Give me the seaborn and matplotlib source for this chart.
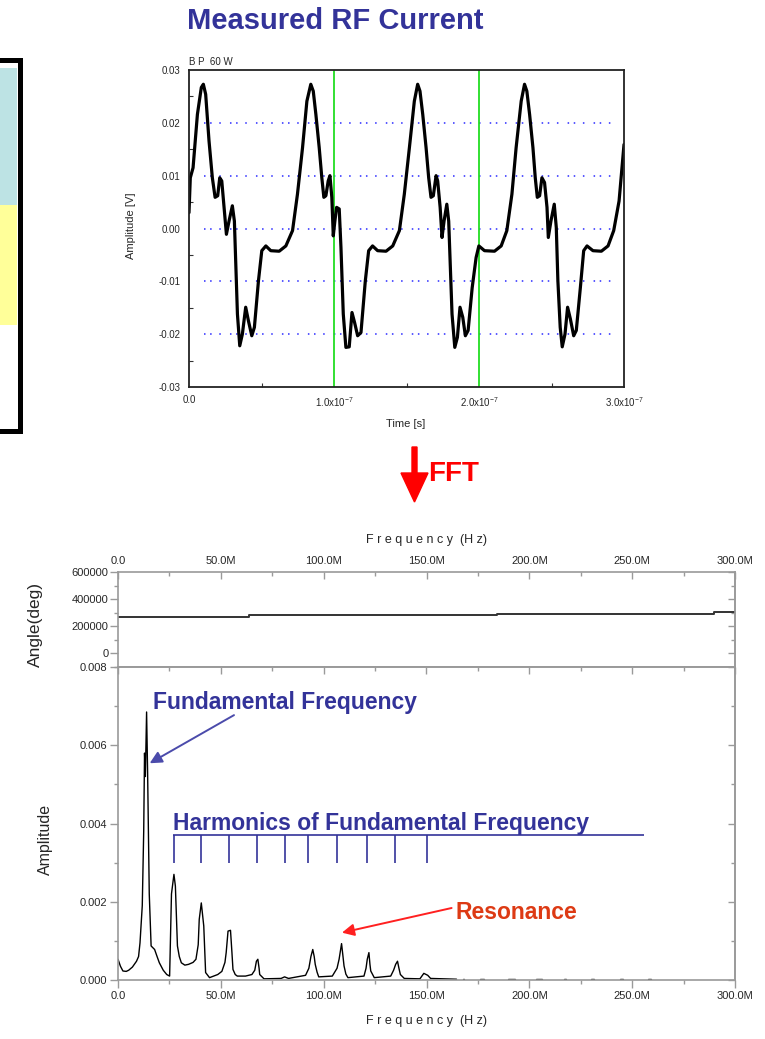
import matplotlib
matplotlib.use("Agg")
import matplotlib.pyplot as plt
import matplotlib.ticker as mticker
from matplotlib.patches import Rectangle, FancyArrow
from matplotlib.transforms import IdentityTransform
import numpy as np
import pandas as pd
import seaborn as sns

sns.set_theme(style="white")
plt.rcParams["font.family"] = ["Liberation Sans", "DejaVu Sans"]
plt.rcParams["mathtext.fontset"] = "custom"
plt.rcParams["mathtext.rm"] = "Liberation Sans"
plt.rcParams["mathtext.it"] = "Liberation Sans:italic"

# ---------------- measured RF current (time domain) ----------------
time_ns = [
    0.0, 0.9, 2.8, 5.8, 8.5, 9.9, 11.5, 13.8, 16.1, 18.0, 19.8, 21.2, 22.6, 24.2,
    25.8, 27.6, 29.9, 31.3, 32.2, 33.4, 35.0, 36.8, 39.1, 41.0, 43.3, 45.1, 47.9,
    50.2, 53.0, 56.4, 62.2, 66.8, 71.4, 74.8, 78.3, 81.3, 84.0,
    85.7, 87.5, 89.8, 91.6, 93.0, 94.4, 96.0, 97.2, 98.5, 99.5, 100.6, 101.8,
    103.6, 104.8, 106.4, 108.2, 110.5, 112.4, 114.2, 116.3, 118.6, 121.6, 123.9,
    126.6, 130.1, 135.9, 140.5, 145.1, 148.5, 152.0, 155.4, 157.7,
    159.3, 161.2, 163.5, 165.3, 166.9, 168.5, 170.4, 171.5, 173.2, 174.5, 175.9,
    177.8, 179.1, 180.1, 181.4, 183.3, 185.1, 186.9, 188.8, 190.6, 192.5, 195.3,
    198.0, 199.9, 203.8, 210.7, 215.3, 219.2, 222.7, 225.6, 229.1, 231.4,
    233.0, 234.9, 237.2, 238.8, 240.2, 241.8, 243.4, 245.2, 246.9, 247.8, 249.6,
    251.9, 253.3, 254.4, 256.0, 257.4, 259.3, 261.1, 263.0, 265.3, 267.1, 269.9,
    272.2, 274.5, 278.6, 284.4, 289.0, 292.9, 296.6, 300.0,
]
current_v = [
    0.0030, 0.0096, 0.0115, 0.0216, 0.0267, 0.0273, 0.0254, 0.0166, 0.0096, 0.0059,
    0.0062, 0.0096, 0.0090, 0.0040, -0.0011, 0.0014, 0.0043, 0.0014, -0.0061,
    -0.0162, -0.0222, -0.0200, -0.0149, -0.0175, -0.0203, -0.0187, -0.0099,
    -0.0042, -0.0033, -0.0042, -0.0043, -0.0033, -0.0004, 0.0065, 0.0153, 0.0241, 0.0273,
    0.0260, 0.0216, 0.0153, 0.0096, 0.0059, 0.0062, 0.0090, 0.0100, 0.0059, -0.0014,
    0.0014, 0.0040, 0.0037, -0.0036, -0.0162, -0.0225, -0.0224, -0.0159, -0.0178,
    -0.0203, -0.0197, -0.0099, -0.0042, -0.0033, -0.0042, -0.0043, -0.0033, -0.0004,
    0.0065, 0.0153, 0.0241, 0.0273,
    0.0260, 0.0216, 0.0153, 0.0096, 0.0059, 0.0062, 0.0100, 0.0090, 0.0040, -0.0017,
    0.0014, 0.0046, 0.0014, -0.0061, -0.0162, -0.0225, -0.0206, -0.0149, -0.0168,
    -0.0203, -0.0193, -0.0112, -0.0055, -0.0033, -0.0042, -0.0043, -0.0033, -0.0004,
    0.0065, 0.0153, 0.0241, 0.0273,
    0.0260, 0.0216, 0.0153, 0.0096, 0.0059, 0.0062, 0.0096, 0.0087, 0.0040, -0.0017,
    0.0014, 0.0046, 0.0002, -0.0099, -0.0187, -0.0224, -0.0200, -0.0149, -0.0171,
    -0.0203, -0.0193, -0.0112, -0.0042, -0.0033, -0.0042, -0.0043, -0.0033, -0.0004,
    0.0052, 0.0159,
]
time_marker_s = [1.0e-7, 2.0e-7]
time_ticks_s = [0.0, 1.0e-7, 2.0e-7, 3.0e-7]
time_tick_labels = ["0.0", r"1.0x10$^{-7}$", r"2.0x10$^{-7}$", r"3.0x10$^{-7}$"]
volt_ticks = [-0.03, -0.02, -0.01, 0.00, 0.01, 0.02, 0.03]
volt_grid = [-0.02, -0.01, 0.00, 0.01, 0.02]

# ---------------- FFT: phase and amplitude ----------------
angle_freq_mhz = [0.0, 63.5, 184.5, 290.0, 300.0]
angle_deg = [269000, 281000, 291000, 304000, 304000]

spec_freq_mhz = [
    0.0, 1.2, 2.4, 4.0, 5.2, 7.0, 9.0, 10.0, 10.7, 11.8, 12.5, 12.9, 13.3, 13.9,
    14.4, 15.2, 16.1, 17.8, 19.0, 20.1, 22.0, 23.7, 25.1, 26.0, 27.2, 27.9, 28.9,
    29.8, 30.8, 32.5, 34.3, 36.5, 37.9, 39.0, 39.5, 40.5, 41.7, 42.6, 44.5, 46.5,
    48.5, 50.5, 52.0, 52.6, 53.5, 54.7, 55.4, 55.9, 57.0, 58.0, 62.0, 65.1, 66.5,
    67.3, 68.0, 68.6, 68.9, 71.0, 79.3, 81.0, 82.9, 91.2, 92.8, 93.8, 94.7, 95.4,
    95.9, 96.8, 97.6, 104.2, 106.5, 107.5, 108.7, 109.4, 109.9, 110.8, 111.8,
    119.6, 120.6, 121.2, 122.0, 122.5, 122.9, 124.6, 132.6, 134.0, 135.0, 135.9,
    136.6, 137.3, 139.2, 146.8, 148.7, 150.6, 152.0, 164.6,
]
spec_amp = [
    0.00053, 0.00035, 0.00023, 0.00022, 0.00025, 0.00033, 0.00048, 0.0006, 0.00095,
    0.0019, 0.0038, 0.0058, 0.0052, 0.00685, 0.0053, 0.0022, 0.00087, 0.00078,
    0.0006, 0.00044, 0.00025, 0.00014, 0.0001, 0.0022, 0.0027, 0.0024, 0.00087,
    0.0006, 0.00044, 0.00038, 0.0004, 0.00045, 0.00053, 0.0009, 0.00155, 0.00197,
    0.00138, 0.00019, 0.00006, 0.0001, 0.00014, 0.00022, 0.00045, 0.0007, 0.00125,
    0.00127, 0.0007, 0.00027, 0.00014, 0.0001, 0.0001, 0.00014, 0.00025, 0.00048,
    0.00053, 0.0003, 0.00014, 0.00003, 0.00004, 0.00008, 0.00004, 0.00012, 0.0003,
    0.0006, 0.00078, 0.0006, 0.0004, 0.0002, 0.00008, 0.0001, 0.0003, 0.00053,
    0.00093, 0.0006, 0.00036, 0.00015, 0.00006, 0.0001, 0.0003, 0.00053, 0.0007,
    0.0004, 0.00023, 0.00006, 0.0001, 0.00025, 0.0004, 0.00048, 0.0003, 0.00014,
    0.00004, 0.00003, 0.00017, 0.00012, 0.00004, 0.00002,
]
# sparse high-frequency remnants of the spectrum
tail_start_mhz = [167.8, 176.0, 189.5, 203.0, 216.8, 230.0, 244.3, 257.5]
tail_end_mhz = [168.4, 178.2, 192.8, 206.2, 218.0, 231.6, 245.3, 259.2]
tail_amp = 0.00003

harmonic_marks_mhz = [27.2, 40.5, 53.8, 67.8, 81.1, 92.3, 106.6, 121.3, 134.8, 150.4]
freq_ticks_mhz = [0, 50, 100, 150, 200, 250, 300]
angle_ticks = [0, 200000, 400000, 600000]
amp_ticks = [0.000, 0.002, 0.004, 0.006, 0.008]

# ---------------- figure layout (pixel boxes) ----------------
W, H = 765, 1039
fig = plt.figure(figsize=(W / 100, H / 100), dpi=100)
fig.patch.set_facecolor("white")


def box(left, top, right, bottom):
    return [left / W, 1 - bottom / H, (right - left) / W, (bottom - top) / H]


BLUE_TXT = "#333399"
TICK_FONT = ["Liberation Sans Narrow", "Liberation Sans", "DejaVu Sans"]

# partial framed panel on the left edge
px = IdentityTransform()
fig.add_artist(Rectangle((0, H - 205), 17, 137, transform=px, fc="#bde3e4", ec="none"))
fig.add_artist(Rectangle((0, H - 325), 17, 120, transform=px, fc="#ffff99", ec="none"))
fig.add_artist(Rectangle((-20, H - 430.5), 39.5, 370.5, transform=px, fill=False,
                         ec="black", lw=3.6))

fig.text(335 / W, 1 - 21 / H, "Measured RF Current", fontsize=21, fontweight="bold",
         color=BLUE_TXT, ha="center", va="center")

# ---------------- time-domain panel ----------------
ax_t = fig.add_axes(box(189, 70, 624, 387))
ax_t.set_facecolor("white")
ax_t.hlines(volt_grid, 0.1e-7, 2.92e-7, colors="#2a2aff",
            linestyles=(0, (1, 3, 1, 5, 1, 6)), lw=1.1)
for tm in time_marker_s:
    ax_t.axvline(tm, color="#22dd22", lw=1.3)
sns.lineplot(x=np.array(time_ns) * 1e-9, y=current_v, sort=False, estimator=None,
             color="black", lw=2.3, ax=ax_t)
ax_t.set_xlim(0, 3.0e-7)
ax_t.set_ylim(-0.03, 0.03)
ax_t.set_xticks(time_ticks_s)
ax_t.set_xticklabels(time_tick_labels)
ax_t.set_yticks(volt_ticks)
ax_t.yaxis.set_major_formatter(mticker.FuncFormatter(lambda v, p: f"{v:.2f}"))
ax_t.xaxis.set_minor_locator(mticker.MultipleLocator(0.5e-7))
ax_t.yaxis.set_minor_locator(mticker.MultipleLocator(0.005))
ax_t.tick_params(axis="both", which="major", labelsize=7, length=4, width=0.8,
                 color="#333333", direction="out", pad=2)
ax_t.tick_params(axis="both", which="minor", length=3, width=0.8, color="#333333",
                 direction="in", left=True, bottom=True)
for sp in ax_t.spines.values():
    sp.set_color("#222222")
    sp.set_linewidth(1.3)
ax_t.set_xlabel("Time [s]", fontsize=8)
ax_t.set_ylabel("Amplitude [V]", fontsize=8)
ax_t.xaxis.set_label_coords(0.497, -0.1)
ax_t.yaxis.set_label_coords(-0.122, 0.51)
ax_t.text(0.0, 1.008, "B P  60 W", transform=ax_t.transAxes, fontsize=7,
          ha="left", va="bottom")

# FFT arrow and label
fig.add_artist(FancyArrow(414.5, H - 447, 0, -55, width=5, head_width=27, head_length=29,
                          length_includes_head=True, color="#ff0000", transform=px))
fig.text(428 / W, 1 - 474 / H, "FFT", fontsize=20, fontweight="bold", color="#ff0000",
         ha="left", va="center")

# ---------------- FFT panels ----------------
GRAY = "#9a9a9a"
ax_ang = fig.add_axes(box(118, 572, 735, 667))
ax_amp = fig.add_axes(box(118, 667, 735, 980))

sns.lineplot(x=angle_freq_mhz, y=angle_deg, estimator=None, sort=False,
             drawstyle="steps-post", color="#333333", lw=1.4, ax=ax_ang)

spec = pd.DataFrame({"freq": spec_freq_mhz, "amp": spec_amp, "seg": 0})
tails = pd.DataFrame({
    "freq": [f for pair in zip(tail_start_mhz, tail_end_mhz) for f in pair],
    "amp": tail_amp,
    "seg": [i + 1 for i in range(len(tail_start_mhz)) for _ in range(2)],
})
spec_all = pd.concat([spec, tails], ignore_index=True)
sns.lineplot(data=spec_all, x="freq", y="amp", units="seg", estimator=None, sort=False,
             color="black", lw=1.0, ax=ax_amp)

freq_fmt = mticker.FuncFormatter(lambda v, p: "0.0" if v == 0 else f"{v:.1f}M")
for ax in (ax_ang, ax_amp):
    ax.set_facecolor("white")
    ax.set_xlim(0, 300)
    ax.set_xticks(freq_ticks_mhz)
    ax.xaxis.set_major_formatter(freq_fmt)
    ax.xaxis.set_minor_locator(mticker.MultipleLocator(25))
    for sp in ax.spines.values():
        sp.set_color(GRAY)
        sp.set_linewidth(1.2)

ax_ang.set_ylim(-100000, 600000)
ax_ang.set_yticks(angle_ticks)
ax_ang.yaxis.set_major_formatter(mticker.FuncFormatter(lambda v, p: f"{int(v)}"))
ax_ang.yaxis.set_minor_locator(mticker.MultipleLocator(100000))
ax_ang.xaxis.tick_top()
ax_ang.tick_params(axis="x", which="both", top=True, bottom=False, labeltop=True,
                   labelbottom=False, direction="in", color=GRAY, width=1.0, pad=4)
ax_ang.tick_params(axis="x", which="major", length=5, labelsize=8)
ax_ang.tick_params(axis="x", which="minor", length=3)
ax_ang.tick_params(axis="y", which="both", left=True, right=False, direction="out",
                   color=GRAY, width=1.0, labelsize=8, pad=1)
ax_ang.tick_params(axis="y", which="major", length=6)
ax_ang.tick_params(axis="y", which="minor", length=3)
ax_ang.xaxis.set_label_position("top")
ax_ang.set_xlabel("F r e q u e n c y  (H z)", fontsize=9)
ax_ang.set_ylabel("Angle(deg)", fontsize=12.5)
ax_ang.xaxis.set_label_coords(0.5, 1.3)
ax_ang.yaxis.set_label_coords(-0.121, 0.45)

ax_amp.set_ylim(0, 0.008)
ax_amp.set_yticks(amp_ticks)
ax_amp.yaxis.set_major_formatter(mticker.FuncFormatter(lambda v, p: f"{v:.3f}"))
ax_amp.yaxis.set_minor_locator(mticker.MultipleLocator(0.001))
ax_amp.tick_params(axis="both", which="both", left=True, bottom=True, right=False,
                   top=False, direction="out", color=GRAY, width=1.0, labelsize=8)
ax_amp.tick_params(axis="both", which="major", length=6, pad=2)
ax_amp.tick_params(axis="both", which="minor", length=3)
ax_amp.set_xlabel("F r e q u e n c y  (H z)", fontsize=9)
ax_amp.set_ylabel("Amplitude", fontsize=11.5)
ax_amp.xaxis.set_label_coords(0.5, -0.112)
ax_amp.yaxis.set_label_coords(-0.106, 0.45)

# inward ticks on the right and top edges
for ax in (ax_ang, ax_amp):
    sec_y = ax.secondary_yaxis("right")
    sec_y.set_yticks(ax.get_yticks())
    sec_y.yaxis.set_minor_locator(ax.yaxis.get_minor_locator())
    sec_y.tick_params(which="both", direction="in", color=GRAY, width=1.0,
                      labelright=False)
    sec_y.tick_params(which="major", length=5)
    sec_y.tick_params(which="minor", length=3)
    sec_y.spines["right"].set_color(GRAY)
    sec_y.spines["right"].set_linewidth(1.2)
sec_x = ax_amp.secondary_xaxis("top")
sec_x.set_xticks(freq_ticks_mhz)
sec_x.xaxis.set_minor_locator(mticker.MultipleLocator(25))
sec_x.tick_params(which="both", direction="in", color=GRAY, width=1.0, labeltop=False)
sec_x.tick_params(which="major", length=5)
sec_x.tick_params(which="minor", length=3)
sec_x.spines["top"].set_color(GRAY)

for ax in (ax_t, ax_ang, ax_amp):
    for lbl in ax.get_xticklabels() + ax.get_yticklabels():
        lbl.set_family(TICK_FONT)

# annotations on the amplitude spectrum
ax_amp.text(17.0, 0.0071, "Fundamental Frequency", fontsize=16.5, fontweight="bold",
            color=BLUE_TXT, ha="left", va="center")
ax_amp.annotate("", xy=(15.4, 0.00554), xytext=(56.4, 0.00677),
                arrowprops=dict(arrowstyle="-|>", color="#4b4bab", lw=1.4,
                                mutation_scale=18, shrinkA=0, shrinkB=0))
ax_amp.text(26.5, 0.0040, "Harmonics of Fundamental Frequency", fontsize=16.5,
            fontweight="bold", color=BLUE_TXT, ha="left", va="center")
ax_amp.hlines(0.00371, 26.8, 255.7, color=BLUE_TXT, lw=1.2)
ax_amp.vlines(harmonic_marks_mhz, 0.0030, 0.00371, color=BLUE_TXT, lw=1.2)
ax_amp.text(164.0, 0.00172, "Resonance", fontsize=16.5, fontweight="bold",
            color="#dd3a14", ha="left", va="center")
ax_amp.annotate("", xy=(108.9, 0.00121), xytext=(162.2, 0.00184),
                arrowprops=dict(arrowstyle="-|>", color="#ff2020", lw=1.4,
                                mutation_scale=18, shrinkA=0, shrinkB=0))

fig.savefig("out.png", dpi=100, facecolor="white")
